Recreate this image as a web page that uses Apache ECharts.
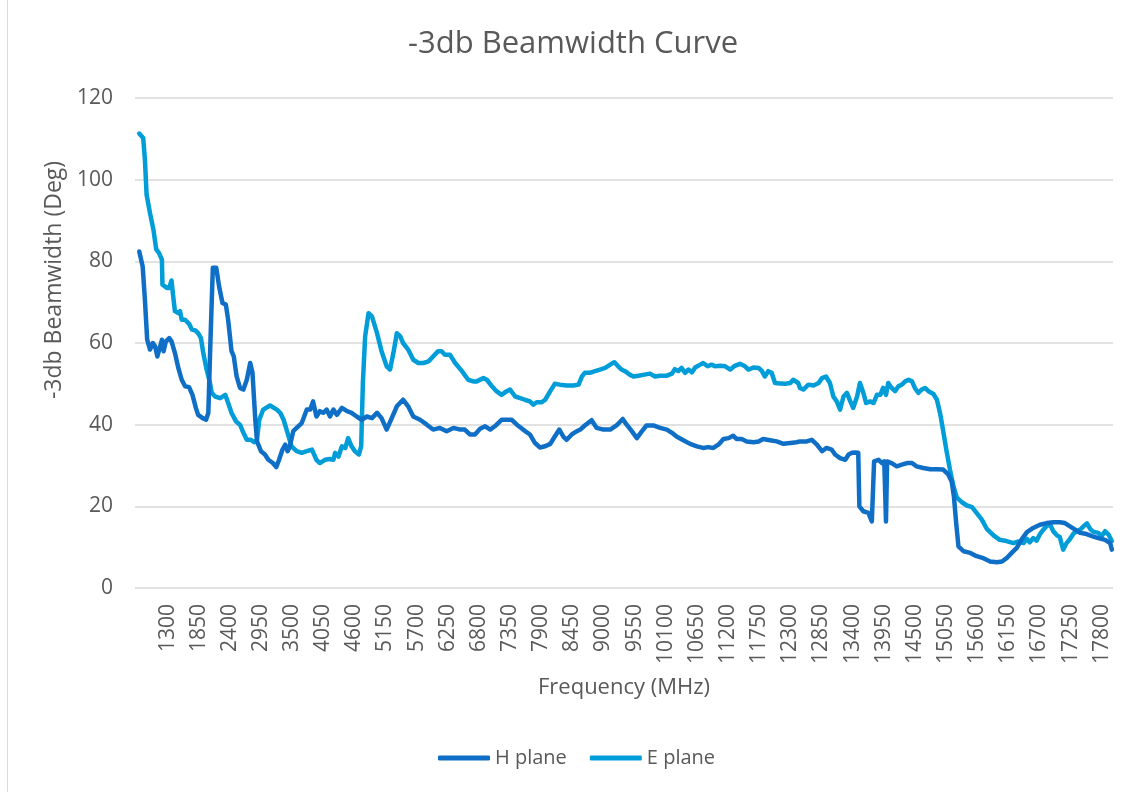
<!DOCTYPE html>
<html><head><meta charset="utf-8">
<script src="https://cdn.jsdelivr.net/npm/echarts@6/dist/echarts.min.js"></script>
<style>html,body{margin:0;padding:0;background:#fff}#c{width:1133px;height:792px}</style>
</head><body><div id="c"></div>
<script>
const xTickLabels = [1300,1850,2400,2950,3500,4050,4600,5150,5700,6250,6800,7350,7900,8450,9000,9550,10100,10650,11200,11750,12300,12850,13400,13950,14500,15050,15600,16150,16700,17250,17800];
const yTickLabels = [0,20,40,60,80,100,120];

const hFreq = [800,860,900,940,990,1040,1080,1120,1170,1200,1230,1270,1330,1370,1430,1490,1550,1610,1680,1740,1800,1840,1920,1980,2020,2060,2100,2160,2210,2270,2330,2370,2430,2470,2520,2580,2640,2700,2760,2800,2850,2880,2950,3020,3080,3160,3220,3270,3330,3380,3420,3460,3520,3580,3670,3760,3820,3870,3930,3990,4050,4110,4170,4230,4290,4380,4470,4550,4640,4730,4820,4910,5000,5080,5170,5260,5350,5460,5550,5640,5760,5880,5990,6110,6230,6350,6470,6550,6640,6730,6820,6910,7000,7080,7200,7290,7380,7470,7580,7700,7790,7880,7970,8060,8140,8220,8290,8350,8440,8530,8590,8670,8790,8880,9000,9120,9230,9340,9410,9500,9590,9680,9760,9880,10000,10120,10210,10290,10410,10530,10650,10760,10850,10940,11030,11120,11210,11290,11350,11440,11530,11650,11740,11820,11940,12060,12180,12300,12410,12470,12590,12680,12770,12860,12940,13030,13090,13180,13270,13330,13390,13440,13500,13520,13590,13680,13740,13780,13860,13920,13960,13990,14010,14090,14180,14270,14360,14450,14530,14650,14770,14890,15000,15090,15150,15190,15230,15270,15360,15480,15590,15710,15830,15950,16040,16120,16210,16300,16390,16480,16590,16710,16830,16950,17060,17150,17240,17330,17420,17510,17630,17740,17860,17950,17980];
const hVal = [82.4,78.8,70.6,60.8,58.4,60.0,59.2,56.7,59.2,60.8,58.0,60.4,61.2,60.4,57.6,53.9,51.0,49.4,49.2,47.3,44.1,42.4,41.6,41.2,42.9,61.6,78.4,78.4,73.9,69.8,69.4,65.7,58.0,56.7,51.8,49.0,48.6,51.0,55.1,52.7,41.2,35.9,33.5,32.7,31.4,30.6,29.6,31.4,33.9,35.1,33.5,34.7,38.4,39.2,40.4,43.7,43.7,45.7,42.0,43.3,42.9,43.7,42.0,43.7,42.4,44.1,43.3,42.9,42.0,41.2,42.0,41.6,42.9,41.6,38.8,41.6,44.5,46.1,44.5,42.0,41.2,40.0,38.8,39.2,38.4,39.2,38.8,38.8,37.6,37.6,39.0,39.6,38.8,39.6,41.2,41.2,41.2,40.0,38.8,37.6,35.5,34.4,34.7,35.3,37.1,38.8,37.1,36.3,37.6,38.4,38.8,39.8,41.1,39.2,38.8,38.8,39.8,41.4,40.0,38.4,36.7,38.4,39.8,39.8,39.2,38.8,38.0,37.1,36.2,35.3,34.7,34.3,34.5,34.3,35.1,36.5,36.7,37.3,36.5,36.5,35.9,35.7,35.9,36.5,36.2,35.9,35.3,35.5,35.7,35.9,35.9,36.3,35.1,33.5,34.3,33.9,32.7,31.8,31.4,32.7,33.1,33.2,33.1,20.0,18.8,18.4,16.3,31.0,31.4,30.6,31.0,16.3,31.0,30.6,29.8,30.2,30.6,30.6,29.8,29.4,29.1,29.1,29.0,27.8,26.1,22.4,15.9,10.2,9.0,8.6,7.8,7.3,6.5,6.3,6.5,7.3,8.6,9.8,12.0,13.7,14.7,15.5,15.9,16.1,16.1,15.9,15.1,14.3,13.5,13.3,12.7,12.2,11.8,11.0,9.4];

const eFreq = [800,870,900,930,990,1050,1100,1150,1200,1210,1290,1330,1370,1400,1430,1490,1520,1550,1610,1680,1730,1790,1840,1890,1930,1990,2050,2080,2140,2230,2320,2370,2430,2510,2580,2640,2700,2770,2830,2880,2920,2990,3110,3230,3290,3350,3430,3490,3580,3670,3760,3850,3930,3990,4080,4170,4230,4260,4320,4380,4440,4490,4550,4610,4680,4720,4750,4790,4850,4910,5000,5080,5170,5230,5290,5350,5410,5460,5550,5640,5730,5820,5910,5990,6080,6140,6200,6290,6380,6500,6610,6700,6760,6880,6940,7030,7110,7200,7290,7350,7440,7530,7610,7700,7760,7820,7910,7970,8060,8140,8230,8350,8470,8560,8620,8670,8760,8850,8940,9030,9120,9190,9260,9320,9380,9410,9470,9530,9620,9700,9820,9910,10000,10120,10210,10260,10320,10380,10440,10500,10560,10620,10710,10760,10840,10910,10970,11060,11150,11240,11320,11410,11500,11560,11650,11740,11800,11850,11910,11970,12030,12120,12210,12300,12350,12440,12470,12530,12620,12710,12800,12860,12930,13000,13060,13120,13180,13240,13300,13360,13410,13480,13530,13590,13640,13710,13770,13830,13890,13940,13990,14030,14090,14150,14210,14270,14330,14390,14450,14500,14560,14620,14680,14740,14830,14890,14950,15000,15060,15120,15180,15240,15330,15420,15510,15590,15680,15770,15890,16000,16120,16240,16330,16420,16480,16530,16590,16650,16710,16770,16830,16890,16950,17010,17060,17120,17180,17240,17300,17360,17420,17480,17540,17600,17650,17740,17800,17860,17920,17980];
const eVal = [111.3,110.2,104.9,96.3,91.8,87.8,82.9,82.0,80.4,74.3,73.5,73.5,75.3,71.4,67.8,67.3,67.8,65.7,65.7,64.7,63.3,63.1,62.4,61.2,57.6,53.5,50.2,47.8,46.9,46.5,47.3,45.3,42.9,40.8,40.0,38.0,36.3,36.3,35.7,36.3,41.2,43.7,44.7,43.7,42.9,41.2,37.5,34.7,33.5,33.1,33.5,33.9,31.4,30.6,31.4,31.6,31.4,33.1,32.2,34.7,34.3,36.7,34.7,33.5,32.7,34.7,50.2,61.6,67.3,66.5,62.4,58.0,54.3,53.5,57.6,62.4,61.6,60.0,58.4,55.9,55.1,55.1,55.5,56.7,58.0,58.0,57.1,57.1,55.1,53.1,51.0,50.6,50.6,51.4,51.0,49.4,48.2,47.3,48.2,48.6,46.9,46.5,46.1,45.7,44.9,45.5,45.5,46.1,48.2,50.0,49.8,49.6,49.6,49.8,51.8,52.7,52.7,53.1,53.5,53.9,54.7,55.3,54.3,53.5,53.1,53.5,52.2,51.8,52.0,52.2,52.5,51.8,52.0,52.0,52.5,53.6,53.1,53.9,52.7,53.5,52.8,54.0,54.7,55.1,54.3,54.7,54.3,54.4,54.3,53.5,54.4,54.9,54.3,53.5,54.0,53.9,53.1,51.8,53.1,52.7,50.2,50.1,50.0,50.2,51.0,50.2,49.0,48.6,49.8,49.6,50.2,51.4,51.8,50.2,46.9,45.7,43.7,46.9,47.8,45.7,44.1,46.9,50.2,47.8,45.3,45.7,45.3,47.3,47.3,49.0,47.3,50.2,49.0,48.2,49.4,49.8,50.6,51.0,50.6,49.0,47.8,48.6,49.0,48.2,47.5,46.1,42.5,38.5,33.5,29.0,25.0,22.2,21.0,20.2,19.8,18.4,16.8,14.5,12.9,11.8,11.5,11.0,11.4,11.0,12.0,11.2,12.2,11.6,13.2,14.3,15.2,15.5,13.8,12.9,12.5,9.4,11.0,12.0,13.3,13.9,14.3,15.1,15.8,14.4,13.8,13.5,12.7,13.9,13.1,11.5];

const FONT = '"Open Sans", "Noto Sans", sans-serif';
const TXT = '#595959';
const zip = (a, b) => a.map((f, i) => [f, b[i]]);

const chart = echarts.init(document.getElementById('c'), null, {renderer: 'canvas'});
chart.setOption({
  backgroundColor: '#ffffff',
  animation: false,
  textStyle: {fontFamily: FONT},
  title: {
    text: '-3db Beamwidth Curve',
    left: 403, top: 24,
    textStyle: {fontFamily: FONT, fontSize: 31, fontWeight: 'normal', color: TXT}
  },
  graphic: [{type: 'line', shape: {x1: 7.5, y1: 0, x2: 7.5, y2: 792}, style: {stroke: '#D9D9D9', lineWidth: 1}, silent: true}],
  grid: {left: 135, right: 20, top: 98, bottom: 204, containLabel: false},
  xAxis: {
    type: 'value', min: 725, max: 18000,
    name: 'Frequency (MHz)', nameLocation: 'middle', nameGap: 89,
    nameTextStyle: {fontFamily: FONT, fontSize: 22, color: TXT},
    axisLine: {show: false}, axisTick: {show: false}, splitLine: {show: false},
    axisLabel: {customValues: xTickLabels, rotate: 90, margin: 16, fontFamily: FONT, fontSize: 21, color: TXT,
      formatter: v => String(v)}
  },
  yAxis: {
    type: 'value', min: 0, max: 120, interval: 20,
    name: '-3db Beamwidth (Deg)', nameLocation: 'middle', nameRotate: 90, nameGap: 46,
    nameTextStyle: {fontFamily: FONT, fontSize: 23, color: TXT, padding: [0, 0, 0, 126]},
    axisLine: {show: false}, axisTick: {show: false},
    splitLine: {lineStyle: {color: '#D9D9D9', width: 1.5}},
    axisLabel: {margin: 22, fontFamily: FONT, fontSize: 21, color: TXT,
      formatter: v => yTickLabels.includes(v) ? String(v) : ''}
  },
  legend: {
    left: 438, top: 748, padding: 0, itemWidth: 52, itemHeight: 5, itemGap: 23, itemTextGap: 6, icon: 'roundRect',
    textStyle: {fontFamily: FONT, fontSize: 20, color: TXT},
    data: ['H plane', 'E plane']
  },
  series: [
    {name: 'H plane', type: 'line', data: zip(hFreq, hVal), symbol: 'none', color: '#0F6FC6',
     lineStyle: {width: 4.5, color: '#0F6FC6', cap: 'round', join: 'round'}, z: 3},
    {name: 'E plane', type: 'line', data: zip(eFreq, eVal), symbol: 'none', color: '#009DD9',
     lineStyle: {width: 4.5, color: '#009DD9', cap: 'round', join: 'round'}, z: 2}
  ]
});
</script></body></html>
